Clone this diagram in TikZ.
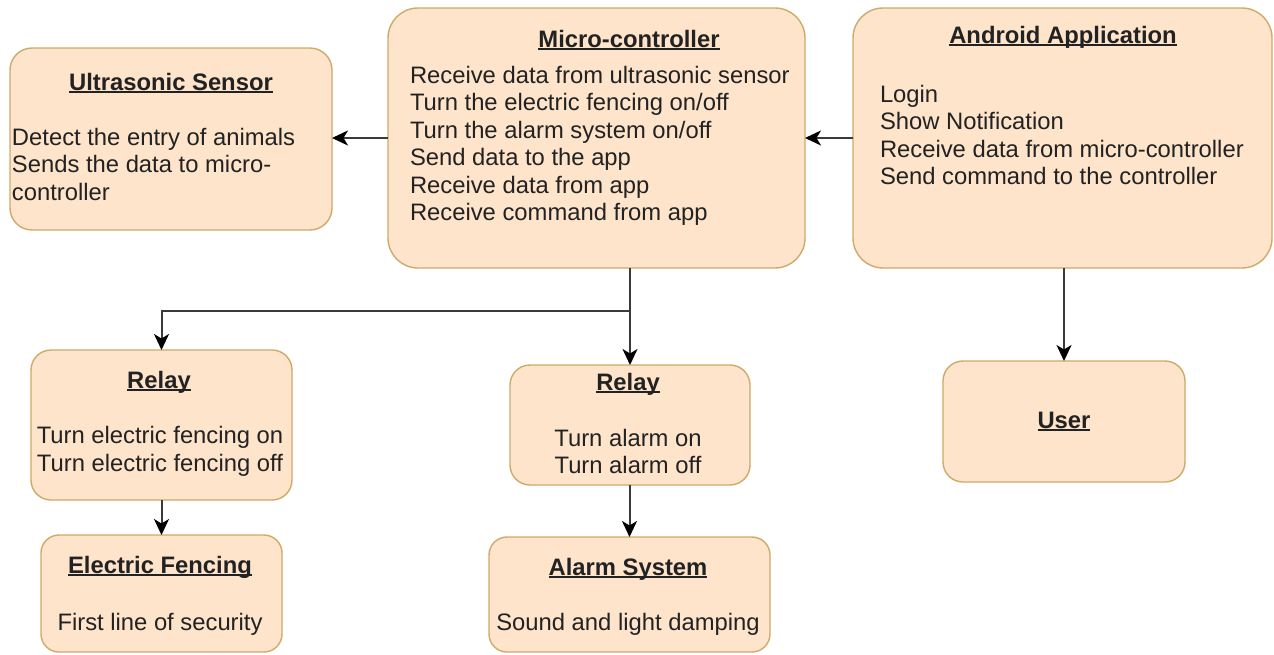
\documentclass[tikz,border=0pt]{standalone}
\usepackage{fontspec}
\setmainfont{Liberation Sans}
\usetikzlibrary{arrows.meta}
\definecolor{boxfill}{HTML}{FDE4CB}
\definecolor{boxline}{HTML}{CDAB68}
\definecolor{ink}{HTML}{222222}
\definecolor{wire}{HTML}{3A3A3A}
% underlined heading that runs through descenders, as in the drawing tool
\newcommand\headul[1]{\setbox0\hbox{#1}\rlap{\rule[-0.11em]{\wd0}{0.065em}}\box0}
\tikzset{
  x=1pt, y=-1pt,
  box/.style={draw=boxline, fill=boxfill, line width=1.4pt, inner sep=0pt, outer sep=0pt},
  txt/.style={inner sep=0pt, outer sep=0pt, text=ink, font=\fontsize{23.8}{27.5}\selectfont},
  ttl/.style={txt, anchor=base, font=\fontsize{23.8}{27.5}\selectfont\bfseries},
  bodyl/.style={txt, anchor=base west},
  bodyc/.style={txt, anchor=base},
  flow/.style={draw=wire, line width=2pt,
    -{Stealth[length=16pt,width=15pt,inset=4.5pt,color=black]}},
}
\begin{document}
\begin{tikzpicture}
\useasboundingbox[fill=white] (0,0) rectangle (1274,654);

% blocks
\node[box, rounded corners=22pt, minimum width=322, minimum height=182] (ultra)   at (171,139) {};
\node[box, rounded corners=30pt, minimum width=417, minimum height=260] (micro)   at (596.5,138) {};
\node[box, rounded corners=30pt, minimum width=419, minimum height=260] (android) at (1062.5,138) {};
\node[box, rounded corners=20pt, minimum width=242, minimum height=121] (user)    at (1064,421.5) {};
\node[box, rounded corners=20pt, minimum width=261, minimum height=150] (relayA)  at (161.5,425) {};
\node[box, rounded corners=18pt, minimum width=241, minimum height=117] (fence)   at (161.5,593.5) {};
\node[box, rounded corners=20pt, minimum width=240, minimum height=120] (relayB)  at (630,425) {};
\node[box, rounded corners=18pt, minimum width=281, minimum height=115] (alarm)   at (629.5,594.5) {};

% Ultrasonic sensor
\node[ttl] (ultra-t) at (171,90) {\headul{Ultrasonic Sensor}};
\foreach \s [count=\i] in {Detect the entry of animals, Sends the data to micro-, controller}
  \node[bodyl] (ultra-\i) at (12,{145+27.5*(\i-1)}) {\s};

% Micro-controller
\node[ttl] (micro-t) at (629,47) {\headul{Micro-controller}};
\foreach \s [count=\i] in {Receive data from ultrasonic sensor, Turn the electric fencing on/off,
    Turn the alarm system on/off, Send data to the app, Receive data from app, Receive command from app}
  \node[bodyl] (micro-\i) at (410,{83+27.5*(\i-1)}) {\s};

% Android application
\node[ttl] (android-t) at (1063,43) {\headul{Android Application}};
\foreach \s [count=\i] in {Login, Show Notification, Receive data from micro-controller, Send command to the controller}
  \node[bodyl] (android-\i) at (880,{102+27.5*(\i-1)}) {\s};

% User
\node[ttl] (user-t) at (1064,428) {\headul{User}};

% Relay for the fence
\node[ttl] (relayA-t) at (159,388) {\headul{Relay}};
\node[bodyc] (relayA-1) at (160,443) {Turn electric fencing on};
\node[bodyc] (relayA-2) at (160,471) {Turn electric fencing off};

% Electric fencing
\node[ttl] (fence-t) at (160,573) {\headul{Electric Fencing}};
\node[bodyc] (fence-1) at (160,630) {First line of security};

% Relay for the alarm
\node[ttl] (relayB-t) at (628,390) {\headul{Relay}};
\node[bodyc] (relayB-1) at (628,446) {Turn alarm on};
\node[bodyc] (relayB-2) at (628,473) {Turn alarm off};

% Alarm system
\node[ttl] (alarm-t) at (628,575) {\headul{Alarm System}};
\node[bodyc] (alarm-1) at (628,630) {Sound and light damping};

% connectors
\draw[flow] (micro.west) -- (micro.west -| ultra.east);
\draw[flow] (android.west) -- (micro.east);
\draw[flow] (android.south -| user.north) -- (user.north);
\draw[flow] (micro.south -| relayB.north) -- (relayB.north);
\coordinate (split) at (630,311);
\draw[flow] (split) -| (relayA.north);
\draw[flow] (relayA.south) -- (fence.north);
\draw[flow] (relayB.south -| alarm.north) -- (alarm.north);
\end{tikzpicture}
\end{document}
